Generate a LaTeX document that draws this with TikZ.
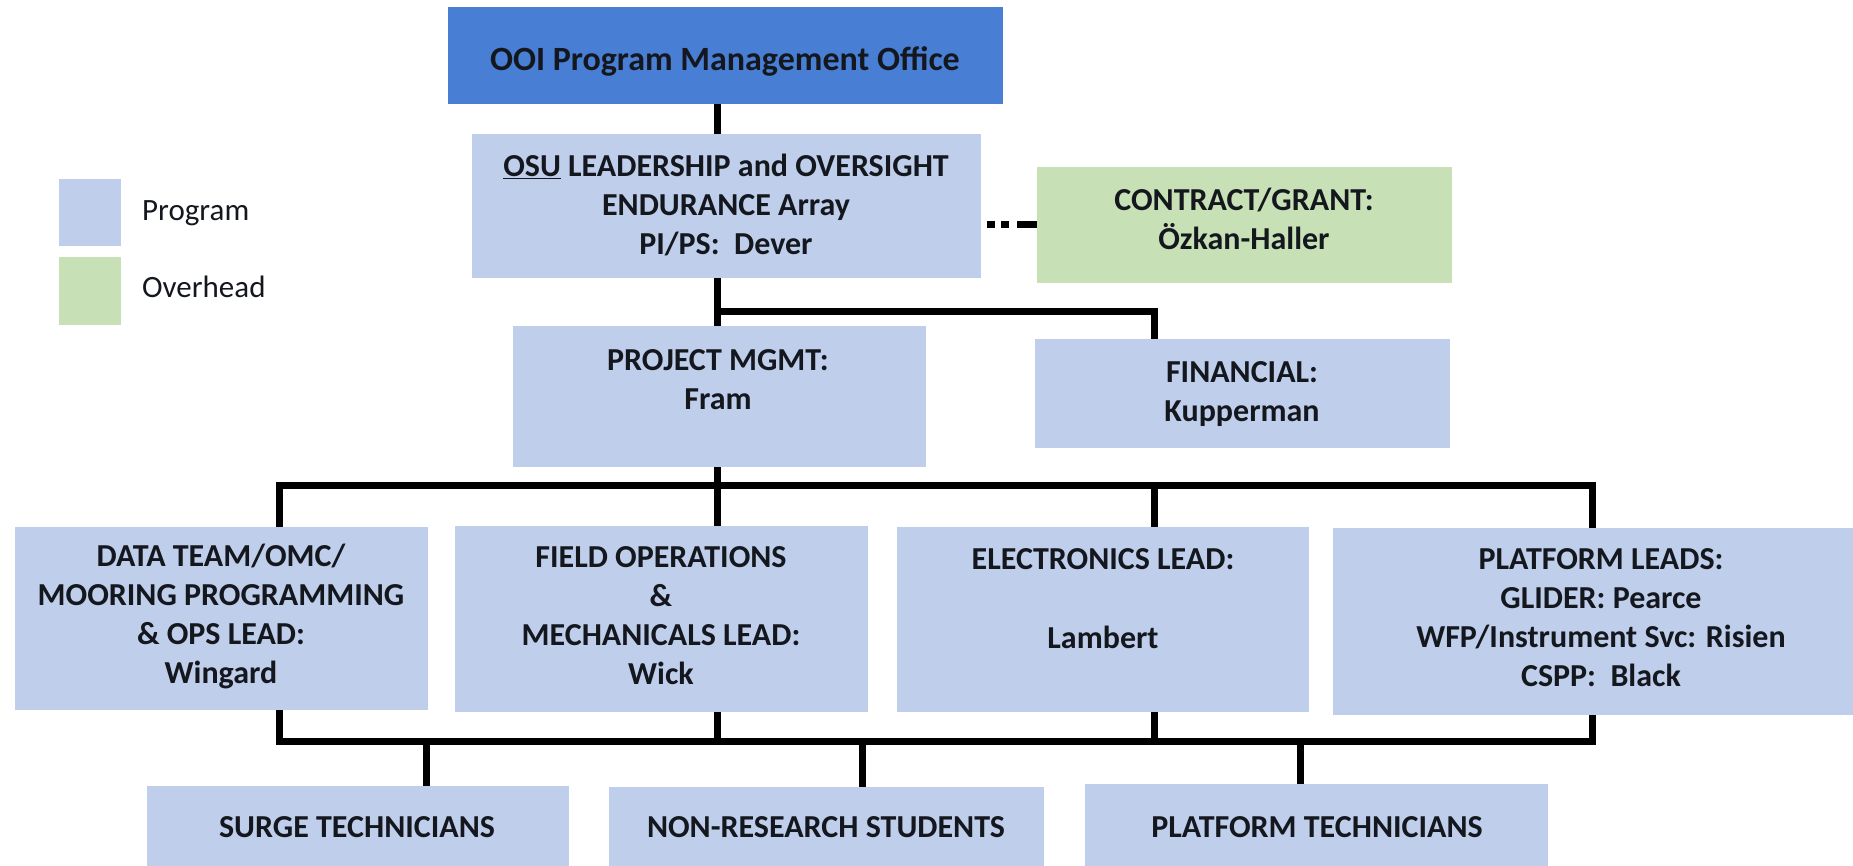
\documentclass[tikz,border=0pt]{standalone}
\usepackage{fontspec}
\setmainfont{Carlito}
\definecolor{ooiblue}{RGB}{72,126,212}
\definecolor{progblue}{RGB}{191,206,234}
\definecolor{ovgreen}{RGB}{200,224,182}
\definecolor{txt}{RGB}{20,24,30}
\begin{document}
\begin{tikzpicture}[x=1pt,y=-1pt,
  box/.style={fill=progblue, draw=none, inner sep=0pt, outer sep=0pt},
  sz/.style n args={2}{minimum width=#1pt, minimum height=#2pt},
  lbl/.style={text=txt, align=center, inner sep=0pt, font=\bfseries\fontsize{32}{39}\selectfont},
  leg/.style={text=txt, anchor=west, inner sep=0pt, font=\fontsize{31}{37}\selectfont},
  conn/.style={draw=black, line width=7pt, line join=miter},
  dotconn/.style={draw=black, line width=7pt, dash pattern=on 8pt off 6pt on 8pt off 8pt on 40pt off 0pt}]
\useasboundingbox (0,0) rectangle (1853,866);
\fill[white] (0,0) rectangle (1853,866);

% guide coordinates
\coordinate (xl) at (279,0);
\coordinate (xt) at (717,0);
\coordinate (xe) at (1154,0);
\coordinate (xr) at (1592,0);
\coordinate (xs) at (426,0);
\coordinate (xn) at (862,0);
\coordinate (xp) at (1300,0);
\coordinate (b1) at (717,312);
\coordinate (b2) at (0,485);
\coordinate (b3) at (0,741);
\coordinate (dl) at (987,0);

% boxes
\node[box, fill=ooiblue, sz={555}{97}] (ooi) at (725.5,55.5) {};
\node[box, sz={62}{67}] (legp) at (90,212.5) {};
\node[box, fill=ovgreen, sz={62}{68}] (lego) at (90,291) {};
\node[box, sz={509}{144}] (osu) at (726.5,206) {};
\node[box, fill=ovgreen, sz={415}{116}] (con) at (1244.5,225) {};
\node[box, sz={413}{141}] (pm) at (719.5,396.5) {};
\node[box, sz={415}{109}] (fin) at (1242.5,393.5) {};
\node[box, sz={413}{183}] (data) at (221.5,618.5) {};
\node[box, sz={413}{186}] (field) at (661.5,619) {};
\node[box, sz={412}{185}] (elec) at (1103,619.5) {};
\node[box, sz={520}{187}] (plat) at (1593,621.5) {};
\node[box, sz={422}{80}] (surge) at (358,826) {};
\node[box, sz={435}{79}] (nonres) at (826.5,826.5) {};
\node[box, sz={463}{82}] (ptech) at (1316.5,825) {};

% texts
\node[lbl, font=\bfseries\fontsize{34}{40}\selectfont] (ooit) at (725,61) {OOI Program Management Office};
\node[leg] (legpt) at (142,213) {Program};
\node[leg] (legot) at (142,287) {Overhead};
\node[lbl] (osut) at (726,205) {\underline{OSU} LEADERSHIP and OVERSIGHT\\ENDURANCE Array\\PI/PS:\ \ Dever};
\node[lbl] (cont) at (1244,219) {CONTRACT/GRANT:\\Özkan-Haller};
\node[lbl] (pmt) at (718,380) {PROJECT MGMT:\\Fram};
\node[lbl] (fint) at (1242,394) {FINANCIAL:\\Kupperman};
\node[lbl] (datat) at (221,616) {DATA TEAM/OMC/\\MOORING PROGRAMMING\\\& OPS LEAD:\\Wingard};
\node[lbl] (fieldt) at (661,616) {FIELD OPERATIONS\\\&\\MECHANICALS LEAD:\\Wick};
\node[lbl] (elect) at (1103,599) {ELECTRONICS LEAD:\\[40pt]Lambert};
\node[lbl] (platt) at (1601,618) {PLATFORM LEADS:\\GLIDER: Pearce\\WFP/Instrument Svc: Risien\\CSPP:\ \ Black};
\node[lbl] (surget) at (357,827) {SURGE TECHNICIANS};
\node[lbl] (nonrest) at (826,827) {NON-RESEARCH STUDENTS};
\node[lbl] (ptecht) at (1317,827) {PLATFORM TECHNICIANS};

% connectors
\draw[conn] (ooi.south -| xt) -- (osu.north -| xt);
\draw[conn] (osu.south -| xt) -- (pm.north -| xt);
\draw[conn] (b1) -| (fin.north -| xe);
\draw[dotconn] (con.west -| dl) -- (con.west);
\draw[conn] (pm.south -| xt) -- (field.north -| xt);
\draw[conn] (data.north -| xl) |- (b2 -| xr) -- (plat.north -| xr);
\draw[conn] (b2 -| xe) -- (elec.north -| xe);
\draw[conn] (data.south -| xl) |- (b3 -| xr) -- (plat.south -| xr);
\draw[conn] (field.south -| xt) -- (b3 -| xt);
\draw[conn] (elec.south -| xe) -- (b3 -| xe);
\draw[conn] (b3 -| xs) -- (surge.north -| xs);
\draw[conn] (b3 -| xn) -- (nonres.north -| xn);
\draw[conn] (b3 -| xp) -- (ptech.north -| xp);
\end{tikzpicture}
\end{document}
